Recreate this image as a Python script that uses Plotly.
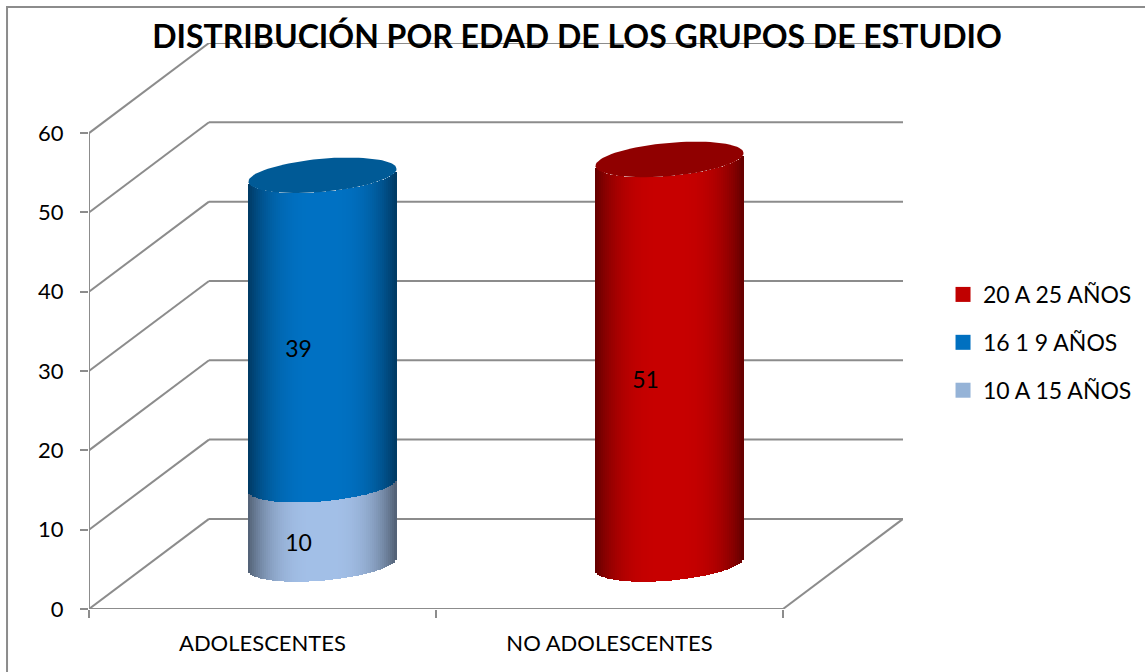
import plotly.graph_objects as go
import numpy as np

# data
categories = ['ADOLESCENTES', 'NO ADOLESCENTES']
legend_names = ['20 A 25 AÑOS', '16 1 9 AÑOS', '10 A 15 AÑOS']
legend_colors = ['#c00000', '#0070c0', '#95b3d7']
tick_values = [0, 10, 20, 30, 40, 50, 60]

age_10_15 = [10, 0]
age_16_19 = [39, 0]
age_20_25 = [0, 51]

# oblique box, in axis units
depth_x = 0.3458
depth_y = 11.36
half_w = 0.2133
shear = 0.8
minor = 2.1
n_strips = 74

grid_color = '#8c8c8c'
font = 'Lato'


def shade(hex_color, f):
    rgb = [int(hex_color[i:i + 2], 16) for i in (1, 3, 5)]
    return 'rgb(%d,%d,%d)' % tuple(int(c * f) for c in rgb)


def strip_colors(color, u):
    # darker towards both edges of the cylinder
    f = 0.5 + 0.5 * (1 - np.abs(u) ** 3).clip(0, 1)
    return [shade(color, v) for v in f]


u = (np.arange(n_strips) + 0.5) / n_strips * 2 - 1


def cylinder_segment(fig, i, low, high, color):
    cx = i + 0.5 + depth_x / 2
    zero = depth_y / 2
    bottom = zero + low + shear * u - minor * np.sqrt(1 - u ** 2)
    top = zero + high + shear * u - minor * np.sqrt(1 - u ** 2)
    fig.add_trace(go.Bar(x=cx + u * half_w, y=top - bottom, base=bottom,
                         width=half_w * 2 / n_strips * 1.15,
                         marker=dict(color=strip_colors(color, u), line=dict(width=0)),
                         showlegend=False, hoverinfo='skip'))


def cylinder_cap(fig, i, value, color):
    t = np.linspace(0, 2 * np.pi, 90)
    cx = i + 0.5 + depth_x / 2
    yc = depth_y / 2 + value
    fig.add_trace(go.Scatter(x=cx + half_w * np.cos(t),
                             y=yc + shear * np.cos(t) + minor * np.sin(t),
                             mode='lines', fill='toself', fillcolor=color,
                             line=dict(width=0, color=color),
                             showlegend=False, hoverinfo='skip'))


fig = go.Figure()

for i in range(len(categories)):
    low = 0
    colors = ['#a3c0e8', '#0072c4', '#c80000']
    caps = ['#7f98b8', '#005a96', '#900000']
    last = None
    for values, color, cap in zip([age_10_15, age_16_19, age_20_25], colors, caps):
        v = values[i]
        if v == 0:
            continue
        cylinder_segment(fig, i, low, low + v, color)
        low += v
        last = cap
    cylinder_cap(fig, i, low, last)

# data labels sit a little left and below the middle of each segment
label_x, label_y, label_text = [], [], []
for i in range(len(categories)):
    low = 0
    for values in [age_10_15, age_16_19, age_20_25]:
        v = values[i]
        if v == 0:
            continue
        label_x.append(i + 0.5 + depth_x / 2 - 0.069)
        label_y.append(depth_y / 2 + low + v / 2 - 2.65)
        label_text.append(str(v))
        low += v
fig.add_trace(go.Scatter(x=label_x, y=label_y, text=label_text, mode='text',
                         textfont=dict(family=font, size=23, color='black'),
                         showlegend=False, hoverinfo='skip'))

# legend entries
for k, (name, color) in enumerate(zip(legend_names, legend_colors)):
    fig.add_trace(go.Scatter(x=[None], y=[None], mode='markers', name=name,
                             legendgroup=name,
                             marker=dict(symbol='square', size=15, color=color)))

# oblique walls go below the cylinders
n_cat = len(categories)
shapes = []
line = dict(color=grid_color, width=2)
for v in tick_values:
    shapes.append(dict(type='line', layer='below', x0=0, y0=v, x1=depth_x, y1=v + depth_y, line=line))
    shapes.append(dict(type='line', layer='below', x0=depth_x, y0=v + depth_y,
                       x1=n_cat + depth_x, y1=v + depth_y, line=line))
shapes.append(dict(type='line', layer='below', x0=0, y0=0, x1=0, y1=tick_values[-1], line=line))
shapes.append(dict(type='line', layer='below', x0=0, y0=0, x1=n_cat, y1=0, line=line))
shapes.append(dict(type='line', layer='below', x0=n_cat, y0=0, x1=n_cat + depth_x, y1=depth_y, line=line))
# chart frame
shapes.append(dict(type='rect', layer='below', xref='paper', yref='paper',
                   x0=-0.1007, x1=1.4, y0=-0.2, y1=1.0636,
                   line=dict(color='#8c8c8c', width=2)))

fig.update_layout(
    width=1145, height=672,
    margin=dict(l=89, r=242, t=43, b=63),
    paper_bgcolor='white', plot_bgcolor='white',
    barmode='overlay', bargap=0,
    shapes=shapes,
    title=dict(text='<b>DISTRIBUCIÓN POR EDAD DE LOS GRUPOS DE ESTUDIO</b>',
               x=0.504, xanchor='center', y=0.945, yanchor='middle',
               font=dict(family=font, size=32, color='black')),
    xaxis=dict(range=[0, n_cat + depth_x], tickvals=[0.5, 1.5], ticktext=categories,
               ticks='', showgrid=False, zeroline=False, showline=False,
               ticklabelstandoff=19,
               tickfont=dict(family=font, size=22, color='black'),
               minor=dict(tickvals=[0, 1, 2], ticks='outside', ticklen=8, tickwidth=2,
                          tickcolor=grid_color, showgrid=False)),
    yaxis=dict(range=[0, tick_values[-1] + depth_y], tickvals=tick_values,
               ticks='outside', ticklen=8, tickwidth=2, tickcolor=grid_color,
               showgrid=False, zeroline=False, showline=False,
               ticklabelstandoff=12,
               tickfont=dict(family=font, size=22, color='black')),
    legend=dict(xref='container', yref='container', x=0.8236, xanchor='left',
                y=0.5938, yanchor='top', tracegroupgap=15,
                font=dict(family=font, size=23, color='black')),
)

fig.write_html("out.html", config={'displayModeBar': False},
               post_script="document.body.style.margin='0'")
